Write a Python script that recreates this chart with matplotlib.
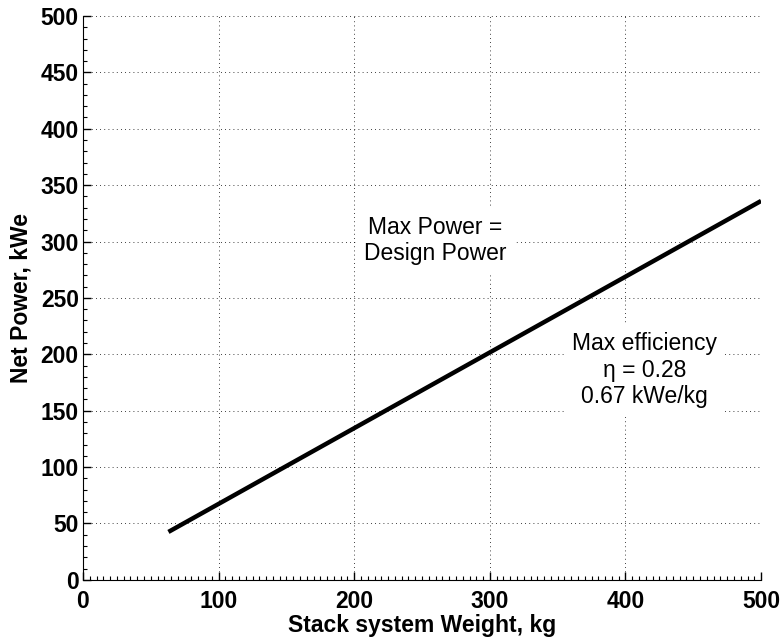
import matplotlib.pyplot as plt
from matplotlib.ticker import MultipleLocator

# Net power vs stack system weight (line endpoints)
weight_kg = [63, 500]
net_power_kwe = [42.5, 336]

x_ticks = [0, 100, 200, 300, 400, 500]
y_ticks = [0, 50, 100, 150, 200, 250, 300, 350, 400, 450, 500]

note_top = "Max Power =\nDesign Power"
note_bottom = "Max efficiency\n\u03b7 = 0.28\n0.67 kWe/kg"

plt.rcParams['font.family'] = ['Liberation Sans', 'DejaVu Sans']

fig = plt.figure(figsize=(7.83, 6.4), dpi=100)
ax = fig.add_axes([0.106, 0.094, 0.866, 0.881])

ax.plot(weight_kg, net_power_kwe, color='black', linewidth=3.2, solid_capstyle='butt')

ax.set_xlim(0, 500)
ax.set_ylim(0, 500)
ax.set_xticks(x_ticks)
ax.set_yticks(y_ticks)
ax.xaxis.set_minor_locator(MultipleLocator(5))
ax.yaxis.set_minor_locator(MultipleLocator(10))
ax.tick_params(which='both', direction='in', top=False, right=False)
ax.tick_params(which='major', length=6, width=1, labelsize=16.5)
ax.tick_params(axis='x', which='major', pad=7)
ax.tick_params(axis='y', which='major', pad=3)
ax.tick_params(which='minor', length=3, width=0.8)
for lbl in ax.get_xticklabels() + ax.get_yticklabels():
    lbl.set_fontweight('bold')

ax.spines['top'].set_visible(False)
ax.spines['right'].set_visible(False)
ax.grid(True, which='major', linestyle=(0, (1, 4)), color='black', linewidth=0.6)

ax.set_xlabel('Stack system Weight, kg', fontsize=16.5, fontweight='bold', labelpad=1)
ax.set_ylabel('Net Power, kWe', fontsize=16.5, fontweight='bold', labelpad=6)

box = dict(facecolor='white', edgecolor='none', pad=6)
ax.text(260, 301, note_top, fontsize=16.5, ha='center', va='center',
        linespacing=1.2, bbox=box)
ax.text(414, 186, note_bottom, fontsize=16.5, ha='center', va='center',
        linespacing=1.2, bbox=box)

fig.savefig('out.png', dpi=100)
